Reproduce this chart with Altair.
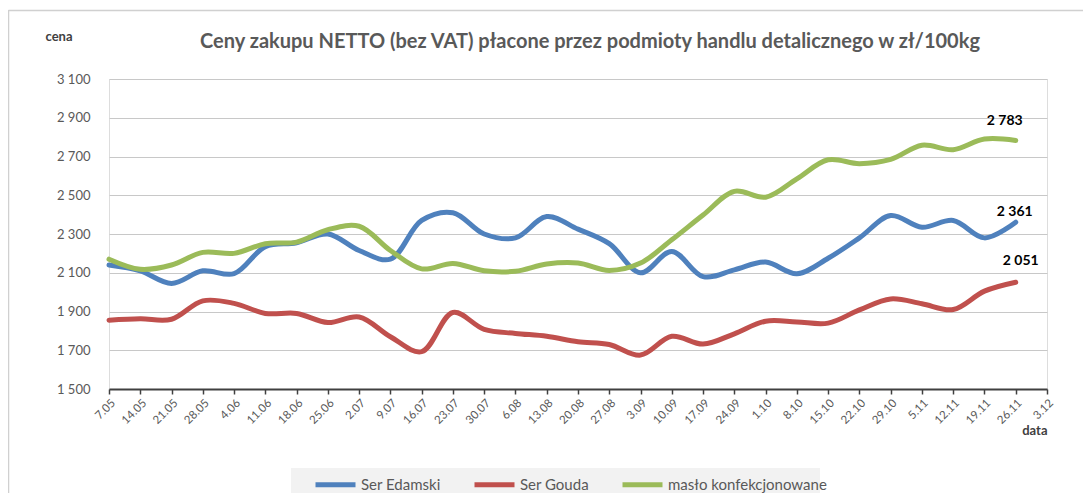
import altair as alt
import pandas as pd

dates = ["7.05", "14.05", "21.05", "28.05", "4.06", "11.06", "18.06", "25.06", "2.07", "9.07",
         "16.07", "23.07", "30.07", "6.08", "13.08", "20.08", "27.08", "3.09", "10.09", "17.09",
         "24.09", "1.10", "8.10", "15.10", "22.10", "29.10", "5.11", "12.11", "19.11", "26.11", "3.12"]

series_names = ["Ser Edamski", "Ser Gouda", "masło konfekcjonowane"]
series_colors = ["#4f81bd", "#c0504d", "#9bbb59"]

edamski = [2140, 2110, 2045, 2110, 2095, 2235, 2255, 2300, 2215, 2170, 2370, 2410, 2300, 2280, 2390,
           2325, 2250, 2100, 2210, 2080, 2115, 2155, 2095, 2175, 2280, 2395, 2335, 2370, 2280, 2361]
gouda = [1855, 1862, 1860, 1955, 1942, 1890, 1890, 1843, 1872, 1770, 1693, 1895, 1808, 1787, 1772,
         1744, 1730, 1675, 1772, 1732, 1785, 1850, 1846, 1840, 1908, 1965, 1940, 1910, 2005, 2051]
maslo = [2170, 2118, 2140, 2205, 2200, 2250, 2258, 2322, 2340, 2215, 2120, 2148, 2110, 2108, 2145,
         2150, 2112, 2150, 2270, 2398, 2520, 2490, 2585, 2683, 2663, 2685, 2758, 2735, 2790, 2783]

y_ticks = [1500, 1700, 1900, 2100, 2300, 2500, 2700, 2900, 3100]

rows = []
for name, vals in zip(series_names, [edamski, gouda, maslo]):
    for i, (d, v) in enumerate(zip(dates, vals)):
        rows.append({"data": d, "idx": i, "cena": v, "seria": name,
                     "label": f"{v:,}".replace(",", " ")})
df = pd.DataFrame(rows)

FONT = "Lato"
W, H = 938, 310

x_enc = alt.X("data:O", sort=dates,
              scale=alt.Scale(type="point", domain=dates, padding=0),
              axis=alt.Axis(title="data", titleAngle=0, titleX=W, titleY=45, titleAlign="right",
                            titleBaseline="alphabetic", titleFontSize=13, titleFontWeight="bold",
                            titleColor="#404040", titleFont=FONT,
                            labelAngle=-45, labelFontSize=11.5, labelColor="#595959", labelFont=FONT,
                            labelPadding=3, labelOverlap=False, domainColor="#404040", domainWidth=2,
                            tickColor="#404040", tickSize=5, tickWidth=1.5, grid=False))
y_enc = alt.Y("cena:Q", scale=alt.Scale(domain=[1500, 3100], nice=False, zero=False),
              axis=alt.Axis(title="cena", titleAngle=0, titleX=-64, titleY=-39, titleAlign="left",
                            titleBaseline="alphabetic", titleFontSize=13, titleFontWeight="bold",
                            titleColor="#404040", titleFont=FONT,
                            values=y_ticks, labelOverlap=False,
                            labelExpr="replace(format(datum.value, ','), ',', ' ')",
                            labelFontSize=13, labelColor="#595959", labelFont=FONT, labelPadding=19,
                            domain=False, ticks=False, grid=True, gridColor="#c8c8c8", gridWidth=1))

base = alt.Chart(df).encode(x=x_enc, y=y_enc)

lines = base.mark_line(interpolate="catmull-rom", strokeWidth=5, strokeCap="round").encode(
    color=alt.Color("seria:N",
                    scale=alt.Scale(domain=series_names, range=series_colors),
                    legend=alt.Legend(title=None, orient="none", legendX=202, legendY=381,
                                      direction="horizontal", symbolType="stroke",
                                      symbolSize=1600, symbolStrokeWidth=5,
                                      labelOffset=3, columnPadding=23, padding=2,
                                      labelFontSize=15, labelLimit=300,
                                      labelColor="#595959", labelFont=FONT)),
    order=alt.Order("idx:Q"),
)

label_offsets = {"masło konfekcjonowane": (-11, -19), "Ser Edamski": (-1, -10), "Ser Gouda": (5, -21)}
label_layers = []
for name in series_names:
    dx, dy = label_offsets[name]
    label_layers.append(
        base.transform_filter(
            (alt.datum.seria == name) & (alt.datum.data == "26.11")
        ).mark_text(dx=dx, dy=dy, fontSize=14, fontWeight="bold", color="#000000", font=FONT,
                    baseline="middle", align="center").encode(text="label:N")
    )

frame_data = alt.Data(values=[{"k": 1}])
frame_left = alt.Chart(frame_data).mark_rule(color="#d0d0d0", strokeWidth=1.5).encode(
    x=alt.value(-100.5), y=alt.value(-69), y2=alt.value(420))
frame_top = alt.Chart(frame_data).mark_rule(color="#d0d0d0", strokeWidth=1.5).encode(
    x=alt.value(-100.5), x2=alt.value(980), y=alt.value(-68.5))
legend_box = alt.Chart(frame_data).mark_rect(color="#f2f2f2").encode(
    x=alt.value(182), x2=alt.value(711), y=alt.value(389), y2=alt.value(425))

chart = alt.layer(lines, *label_layers, frame_left, frame_top, legend_box).properties(
    width=W, height=H,
    title=alt.TitleParams("Ceny zakupu NETTO (bez VAT) płacone przez podmioty handlu detalicznego w zł/100kg",
                          fontSize=20, fontWeight="bold", color="#595959", font=FONT,
                          anchor="middle", offset=0, baseline="alphabetic", dy=59, dx=12),
    autosize=alt.AutoSizeParams(type="none"),
    padding={"left": 101, "top": 71, "right": 36, "bottom": 104},
).configure_view(stroke=None).configure(background="white")

chart.save("out.html", embed_options={"renderer": "svg", "actions": False})
